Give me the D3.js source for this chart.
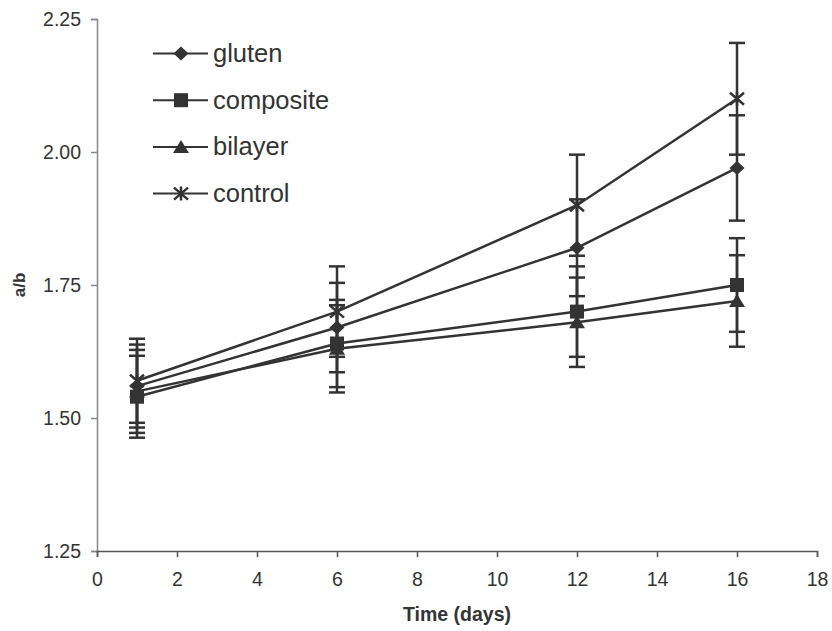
<!DOCTYPE html>
<html>
<head>
<meta charset="utf-8">
<script src="https://cdn.jsdelivr.net/npm/d3@7"></script>
<style>
  html, body { margin: 0; padding: 0; background: #fff; }
  svg { display: block; }
</style>
</head>
<body>
<svg id="chart" width="832" height="631"></svg>
<script>
// Sampling days
const days = [1, 6, 12, 16];

// Mean a/b ratio per film type
const gluten    = [1.56, 1.67, 1.82, 1.97];
const composite = [1.54, 1.64, 1.70, 1.75];
const bilayer   = [1.55, 1.63, 1.68, 1.72];
const control   = [1.57, 1.70, 1.90, 2.10];

// Error bar half-widths
const glutenErr    = [0.078, 0.084, 0.091, 0.099];
const compositeErr = [0.077, 0.082, 0.085, 0.088];
const bilayerErr   = [0.078, 0.082, 0.084, 0.086];
const controlErr   = [0.079, 0.085, 0.095, 0.105];

const seriesNames = ["gluten", "composite", "bilayer", "control"];
const markerKinds = ["diamond", "square", "triangle", "star"];

const xTicks = [0, 2, 4, 6, 8, 10, 12, 14, 16, 18];
const yTicks = [1.25, 1.50, 1.75, 2.00, 2.25];

const series = [
  { name: seriesNames[0], kind: markerKinds[0], values: gluten,    err: glutenErr },
  { name: seriesNames[1], kind: markerKinds[1], values: composite, err: compositeErr },
  { name: seriesNames[2], kind: markerKinds[2], values: bilayer,   err: bilayerErr },
  { name: seriesNames[3], kind: markerKinds[3], values: control,   err: controlErr }
];

const ink = "#333";
const font = "'Liberation Sans', Arial, Helvetica, sans-serif";

const svg = d3.select("#chart");
const x = d3.scaleLinear().domain([0, 18]).range([97, 817]);
const y = d3.scaleLinear().domain([1.25, 2.25]).range([551, 19]);

// Marker drawing
function drawMarker(g, kind, cx, cy) {
  if (kind === "diamond") {
    g.append("path")
      .attr("d", `M${cx},${cy - 7}L${cx + 7.5},${cy}L${cx},${cy + 7}L${cx - 7.5},${cy}Z`)
      .attr("fill", ink);
  } else if (kind === "square") {
    g.append("rect")
      .attr("x", cx - 7).attr("y", cy - 7).attr("width", 14).attr("height", 14)
      .attr("fill", ink);
  } else if (kind === "triangle") {
    g.append("path")
      .attr("d", `M${cx},${cy - 7}L${cx + 8},${cy + 6}L${cx - 8},${cy + 6}Z`)
      .attr("fill", ink);
  } else {
    g.append("path")
      .attr("d", `M${cx - 7},${cy - 6}L${cx + 7},${cy + 6}M${cx - 7},${cy + 6}L${cx + 7},${cy - 6}M${cx},${cy - 7}L${cx},${cy + 7}`)
      .attr("stroke", ink).attr("stroke-width", 2.5).attr("fill", "none");
  }
}

// Axes
const yAxis = svg.append("g")
  .attr("transform", `translate(${x(0)},0)`)
  .call(d3.axisLeft(y).tickValues(yTicks).tickFormat(d3.format(".2f")).tickSize(6).tickPadding(10));
yAxis.select(".domain").attr("stroke", "#888").attr("stroke-width", 1.5);
yAxis.selectAll(".tick line").attr("stroke", "#888").attr("stroke-width", 1.5);
yAxis.selectAll(".tick text")
  .attr("font-family", font).attr("font-size", 19.5).attr("fill", ink);

const xAxis = svg.append("g")
  .attr("transform", `translate(0,${y(1.25)})`)
  .call(d3.axisBottom(x).tickValues(xTicks).tickFormat(d3.format("d")).tickSize(6).tickPadding(15));
xAxis.select(".domain").attr("stroke", "#555").attr("stroke-width", 1.5);
xAxis.selectAll(".tick line").attr("stroke", "#555").attr("stroke-width", 1.5);
xAxis.selectAll(".tick text")
  .attr("font-family", font).attr("font-size", 19.5).attr("fill", ink);

// Axis titles
svg.append("text")
  .attr("x", (x(0) + x(18)) / 2).attr("y", 621)
  .attr("text-anchor", "middle")
  .attr("font-family", font).attr("font-size", 19.5).attr("font-weight", "bold")
  .attr("fill", ink)
  .text("Time (days)");

svg.append("text")
  .attr("transform", `translate(25,${(y(1.25) + y(2.25)) / 2}) rotate(-90)`)
  .attr("text-anchor", "middle")
  .attr("font-family", font).attr("font-size", 17).attr("font-weight", "bold")
  .attr("fill", ink)
  .text("a/b");

// Series: line, error bars, markers
const line = d3.line().x((d, i) => x(days[i])).y(d => y(d));
const plot = svg.append("g");

series.forEach(s => {
  const g = plot.append("g");
  g.append("path")
    .datum(s.values)
    .attr("d", line)
    .attr("fill", "none").attr("stroke", ink).attr("stroke-width", 2.5);

  s.values.forEach((v, i) => {
    const cx = x(days[i]);
    const top = y(v + s.err[i]);
    const bot = y(v - s.err[i]);
    g.append("line").attr("x1", cx).attr("x2", cx).attr("y1", top).attr("y2", bot)
      .attr("stroke", ink).attr("stroke-width", 2.5);
    [top, bot].forEach(yy => {
      g.append("line").attr("x1", cx - 8).attr("x2", cx + 8).attr("y1", yy).attr("y2", yy)
        .attr("stroke", ink).attr("stroke-width", 2.5);
    });
    drawMarker(g, s.kind, cx, y(v));
  });
});

// Legend
const legend = svg.append("g");
series.forEach((s, i) => {
  const ly = 53.5 + i * 46.7;
  legend.append("line").attr("x1", 153).attr("x2", 208).attr("y1", ly).attr("y2", ly)
    .attr("stroke", ink).attr("stroke-width", 2);
  drawMarker(legend, s.kind, 181, ly);
  legend.append("text")
    .attr("x", 213).attr("y", ly + 8.5)
    .attr("font-family", font).attr("font-size", 25.5).attr("fill", ink)
    .text(s.name);
});
</script>
</body>
</html>
